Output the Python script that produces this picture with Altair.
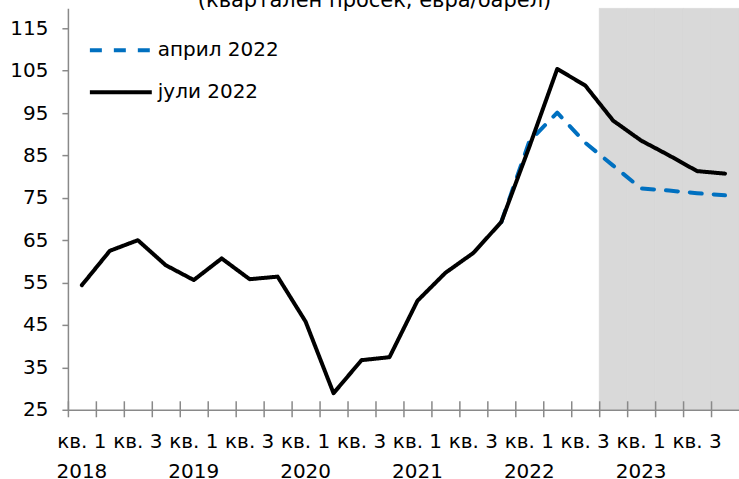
import altair as alt
import pandas as pd

# ---------------- data ----------------
years = ["2018", "2019", "2020", "2021", "2022", "2023"]
quarters = ["кв. 1", "кв. 2", "кв. 3", "кв. 4"]
periods = [f"{y}|{q}" for y in years for q in quarters]

series_names = ["април 2022", "јули 2022"]

# јули 2022 (whole period)
july_2022 = [54.4, 62.5, 65.0, 59.1, 55.6, 60.7, 55.8, 56.4,
             45.8, 28.9, 36.7, 37.4, 50.7, 57.3, 62.0, 69.3,
             87.0, 105.4, 101.5, 93.2, 88.5, 85.0, 81.3, 80.7]
# април 2022 (visible from кв. 4 2021 onward)
april_periods = periods[15:]
april_2022 = [69.3, 88.3, 95.1, 88.0, 82.6, 77.2, 76.7, 76.1, 75.6]

# projection (shaded) quarters
forecast_periods = periods[19:]

y_min, y_max = 25, 119.7
y_ticks = [25, 35, 45, 55, 65, 75, 85, 95, 105, 115]

df_july = pd.DataFrame({"period": periods, "value": july_2022,
                        "series": series_names[1], "idx": range(len(periods))})
df_april = pd.DataFrame({"period": april_periods, "value": april_2022,
                         "series": series_names[0],
                         "idx": range(len(april_periods))})
df_shade = pd.DataFrame({"period": forecast_periods})

FONT = "DejaVu Sans"
FS = 20
AXIS_GREY = "#898989"

x_scale = alt.Scale(type="band", domain=periods, paddingInner=0, paddingOuter=0)
y_scale = alt.Scale(domain=[y_min, y_max], nice=False, zero=False)

y_axis = alt.Axis(values=y_ticks, grid=False, title=None, tickSize=6,
                  labelPadding=14, domainColor=AXIS_GREY, tickColor=AXIS_GREY,
                  domainWidth=1.5, tickWidth=1.5, labelFont=FONT,
                  labelFontSize=FS, labelColor="black")

label_expr = ("split(datum.value, '|')[1] == 'кв. 1' ? "
              "[split(datum.value, '|')[1], split(datum.value, '|')[0]] : "
              "(split(datum.value, '|')[1] == 'кв. 3' ? split(datum.value, '|')[1] : '')")

x_label_axis = alt.Axis(orient="bottom", title=None, ticks=False, tickSize=0,
                        domain=True, domainColor=AXIS_GREY, domainWidth=1.5,
                        labelExpr=label_expr, labelPadding=22,
                        labelFont=FONT, labelFontSize=FS, labelColor="black",
                        labelLineHeight=30, labelOverlap=False, labelBound=False,
                        labelFlush=False, labelAngle=0, zindex=1)

x_tick_axis = alt.Axis(orient="bottom", title=None, labels=False, domain=False,
                       ticks=True, tickSize=16, offset=-9, bandPosition=0,
                       tickColor=AXIS_GREY, tickWidth=1.5, zindex=1)

color_scale = alt.Scale(domain=series_names, range=["#0070C0", "#000000"])
dash_scale = alt.Scale(domain=series_names, range=[[12, 12], [1, 0]])

legend = alt.Legend(title=None, orient="none", legendX=20, legendY=27,
                    symbolType="stroke", symbolSize=3844, symbolStrokeWidth=4,
                    clipHeight=30, rowPadding=12, labelFont=FONT,
                    labelFontSize=FS, labelColor="black", labelOffset=4,
                    padding=0)

shade = alt.Chart(df_shade).mark_rect(color="#D9D9D9", stroke="#D9D9D9",
                                      strokeWidth=0.5).encode(
    x=alt.X("period:O", scale=x_scale, axis=x_tick_axis),
    y=alt.Y(datum=y_max, scale=y_scale, axis=y_axis),
    y2=alt.Y2(datum=y_min),
)

april = alt.Chart(df_april).mark_line(strokeWidth=4, strokeCap="round",
                                      strokeJoin="round").encode(
    x=alt.X("period:O", scale=x_scale, axis=x_label_axis, bandPosition=0.5),
    y=alt.Y("value:Q", scale=y_scale, axis=y_axis),
    color=alt.Color("series:N", scale=color_scale, legend=legend),
    strokeDash=alt.StrokeDash("series:N", scale=dash_scale, legend=legend),
    order=alt.Order("idx:Q"),
)

july = alt.Chart(df_july).mark_line(strokeWidth=4, strokeCap="round",
                                    strokeJoin="round").encode(
    x=alt.X("period:O", scale=x_scale, axis=None, bandPosition=0.5),
    y=alt.Y("value:Q", scale=y_scale, axis=y_axis),
    color=alt.Color("series:N", scale=color_scale, legend=legend),
    strokeDash=alt.StrokeDash("series:N", scale=dash_scale, legend=legend),
    order=alt.Order("idx:Q"),
)

chart = alt.layer(shade, april, july).resolve_axis(x="independent").properties(
    width=672,
    height=402,
    padding={"left": 68, "top": 8, "right": 0, "bottom": 69},
    autosize=alt.AutoSizeParams(type="none"),
    background="white",
    title=alt.Title(text="(квартален просек, евра/барел)", font=FONT,
                    fontSize=21, fontWeight="normal", color="black",
                    anchor="middle", frame="bounds", offset=0, dy=19.5,
                    baseline="alphabetic"),
).configure_view(stroke=None)

chart.save("out.html", embed_options={"renderer": "svg", "actions": False})
